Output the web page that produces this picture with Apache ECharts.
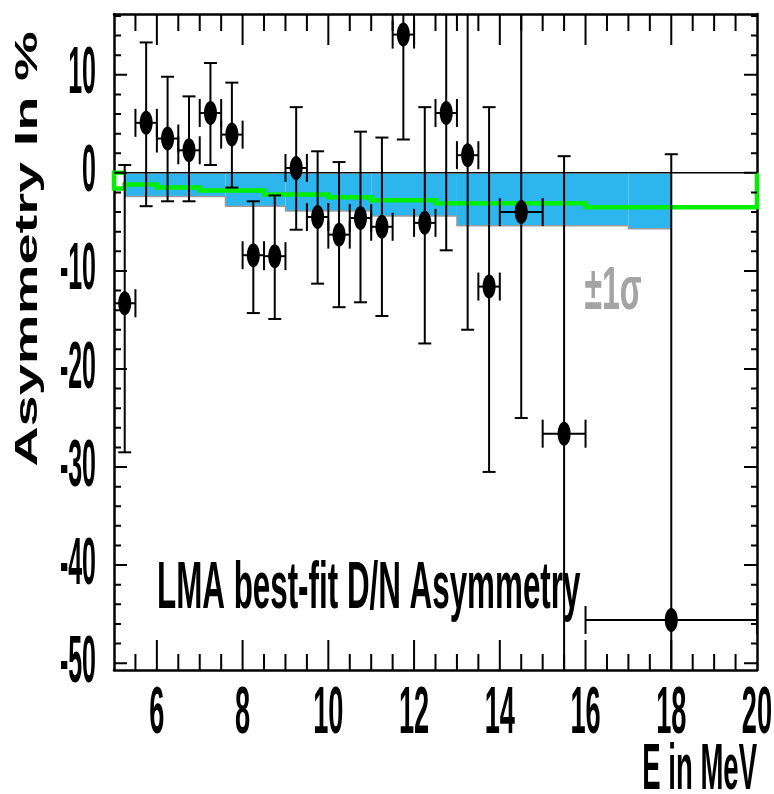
<!DOCTYPE html>
<html><head><meta charset="utf-8">
<script src="https://cdn.jsdelivr.net/npm/echarts@6/dist/echarts.min.js"></script>
<style>html,body{margin:0;padding:0;background:#fff}#c{width:774px;height:794px}</style>
</head><body><div id="c"></div>
<script>
// ---- data ----
const energy  = [5.25, 5.75, 6.25, 6.75, 7.25, 7.75, 8.25, 8.75, 9.25, 9.75, 10.25, 10.75, 11.25, 11.75, 12.25, 12.75, 13.25, 13.75, 14.5, 15.5, 18];
const asym    = [-13.3, 5.1, 3.5, 2.3, 6.1, 3.9, -8.4, -8.5, 0.5, -4.5, -6.3, -4.6, -5.5, 14.1, -5.1, 6.1, 1.8, -11.6, -4.0, -26.6, -45.6];
const errUp   = [14.1, 8.2, 6.3, 5.5, 5.1, 5.3, 5.5, 6.2, 6.2, 6.7, 7.4, 8.8, 9.1, 10.7, 11.8, 14.0, 17.8, 18.3, 21.0, 28.3, 47.5];
const errDown = [15.2, 8.5, 6.4, 5.2, 5.3, 5.4, 5.9, 6.4, 6.3, 6.8, 7.4, 8.6, 9.1, 10.7, 12.3, 14.0, 17.8, 18.9, 21.0, 28.3, 47.5];
const binHalf = [0.25, 0.25, 0.25, 0.25, 0.25, 0.25, 0.25, 0.25, 0.25, 0.25, 0.25, 0.25, 0.25, 0.25, 0.25, 0.25, 0.25, 0.25, 0.5, 0.5, 2];

const bandEdges = [5.25, 7.6, 9.0, 11.0, 13.0, 17.0, 18.0];
const bandLow   = [-2.4, -3.4, -3.9, -4.4, -5.4, -5.7];
const bandHigh  = [-0.1, -0.1, -0.1, -0.1, -0.1, -0.1];

const fitEdges = [5, 5.25, 6, 7, 8.5, 10, 11, 12.5, 16, 20];
const fitVals  = [-1.6, -1.2, -1.5, -1.8, -2.2, -2.5, -2.8, -3.1, -3.5];

const xTickLabels = [6, 8, 10, 12, 14, 16, 18, 20];
const yTickLabels = [10, 0, -10, -20, -30, -40, -50];
const xMajorTicks = [6, 8, 10, 12, 14, 16, 18];
const yMajorTicks = [10, 0, -10, -20, -30, -40, -50];

const X_MIN = 5, X_MAX = 20, Y_MIN = -50.7, Y_MAX = 16.2;

const xMinorTicks = []; for (let v = 5.5; v < 20; v += 0.5) xMinorTicks.push(v);
const yMinorTicks = []; for (let v = -50; v <= 16; v += 2) yMinorTicks.push(v);

// ---- layout ----
const GRID = { left: 114, right: 17, top: 14, bottom: 124 };
const pxPerX = (774 - GRID.left - GRID.right) / (X_MAX - X_MIN);
const pxPerY = (794 - GRID.top - GRID.bottom) / (Y_MAX - Y_MIN);

// ---- derived tables ----
const bandData = bandLow.map((lo, i) => [bandEdges[i], bandEdges[i + 1], lo, bandHigh[i]]);
const bandEdgeLine = [];
bandLow.forEach((lo, i) => { bandEdgeLine.push([bandEdges[i], lo]); bandEdgeLine.push([bandEdges[i + 1], lo]); });
const fitLine = [[fitEdges[1], 0], [fitEdges[0], 0]];
fitVals.forEach((v, i) => { fitLine.push([fitEdges[i], v]); fitLine.push([fitEdges[i + 1], v]); });
fitLine.push([fitEdges[fitEdges.length - 1], 0]);
const pointData = energy.map((x, i) => [x, asym[i], x - binHalf[i], x + binHalf[i], asym[i] - errDown[i], asym[i] + errUp[i]]);

// inward tick marks as broken line segments (lengths given in pixels, converted to axis units)
const tickSegs = [];
function seg(a, b) { tickSegs.push(a, b, ['-', '-']); }
function xTick(v, lenB, lenT) {
  seg([v, Y_MIN], [v, Y_MIN + lenB / pxPerY]);
  seg([v, Y_MAX], [v, Y_MAX - lenT / pxPerY]);
}
function yTick(v, lenL, lenR) {
  seg([X_MIN, v], [X_MIN + lenL / pxPerX, v]);
  seg([X_MAX, v], [X_MAX - lenR / pxPerX, v]);
}
xMinorTicks.forEach(v => xTick(v, 16, 17));
xMajorTicks.forEach(v => xTick(v, 30, 31));
yMinorTicks.forEach(v => yTick(v, 7, 6));
yMajorTicks.forEach(v => yTick(v, 13, 13));

const FONT = "'Liberation Sans', Arial, sans-serif";

function xAx(pos) {
  return { type: 'value', min: X_MIN, max: X_MAX, position: pos,
    axisLine: { show: true, onZero: false, lineStyle: { color: '#000', width: 2.5 } },
    axisTick: { show: false }, axisLabel: { show: false }, splitLine: { show: false } };
}
function yAx(pos) {
  return { type: 'value', min: Y_MIN, max: Y_MAX, position: pos,
    axisLine: { show: true, onZero: false, lineStyle: { color: '#000', width: 2.5 } },
    axisTick: { show: false }, axisLabel: { show: false }, splitLine: { show: false } };
}

const chart = echarts.init(document.getElementById('c'));
chart.setOption({
  animation: false,
  backgroundColor: '#fff',
  grid: GRID,
  xAxis: [xAx('bottom'), xAx('top')],
  yAxis: [yAx('left'), yAx('right')],
  graphic: [
    { type: 'text', x: 28, y: 249, rotation: Math.PI / 2, scaleX: 1.75, scaleY: 1.0, silent: true,
      style: { text: 'Asymmetry In %', fontSize: 32, fontWeight: 'bold', fontFamily: FONT, fill: '#000', align: 'center', verticalAlign: 'middle' } },
    { type: 'text', x: 757, y: 771, scaleX: 0.86, scaleY: 2.0, silent: true,
      style: { text: 'E in MeV', fontSize: 32, fontWeight: 'bold', fontFamily: FONT, fill: '#000', align: 'right', verticalAlign: 'middle' } },
    { type: 'text', x: 157, y: 589, scaleX: 0.98, scaleY: 2.1, silent: true, z: 50,
      style: { text: 'LMA best-fit D/N Asymmetry', fontSize: 32, fontWeight: 'bold', fontFamily: FONT, fill: '#000', align: 'left', verticalAlign: 'middle' } },
    { type: 'text', x: 613, y: 292, scaleX: 1.0, scaleY: 1.9, silent: true,
      style: { text: '±1σ', fontSize: 32, fontWeight: 'bold', fontFamily: FONT, fill: '#a4a4a4', align: 'center', verticalAlign: 'middle' } }
  ],
  series: [
    { type: 'custom', name: 'band', z: 1, data: bandData,
      dimensions: ['x0', 'x1', 'lo', 'hi'], encode: { x: [0, 1], y: [2, 3] },
      renderItem(params, api) {
        const p0 = api.coord([api.value(0), api.value(3)]);
        const p1 = api.coord([api.value(1), api.value(2)]);
        return { type: 'rect', shape: { x: p0[0], y: p0[1], width: p1[0] - p0[0], height: p1[1] - p0[1] },
          style: { fill: '#2db6ee', stroke: null } };
      } },
    { type: 'line', name: 'bandEdge', z: 2, data: bandEdgeLine, showSymbol: false,
      lineStyle: { color: '#9c9c9c', width: 1.5 } },
    { type: 'line', name: 'zero', z: 3, data: [[X_MIN, 0], [X_MAX, 0]], showSymbol: false,
      lineStyle: { color: '#000', width: 1.5 } },
    { type: 'line', name: 'fit', z: 4, clip: false, data: fitLine, showSymbol: false,
      lineStyle: { color: '#00ee00', width: 4.5, join: 'miter' } },
    { type: 'line', name: 'ticks', z: 6, clip: false, data: tickSegs, showSymbol: false, connectNulls: false,
      lineStyle: { color: '#000', width: 2, cap: 'butt' } },
    { type: 'custom', name: 'data', z: 10, clip: true, data: pointData,
      dimensions: ['x', 'y', 'xlo', 'xhi', 'ylo', 'yhi'], encode: { x: [0, 2, 3], y: [1, 4, 5] },
      renderItem(params, api) {
        const x = api.value(0), y = api.value(1);
        const c = api.coord([x, y]);
        const l = api.coord([api.value(2), y]), r = api.coord([api.value(3), y]);
        const t = api.coord([x, api.value(5)]), b = api.coord([x, api.value(4)]);
        const st = { stroke: '#000', lineWidth: 2 };
        const ch = 14, cw = 6.5;
        return { type: 'group', children: [
          { type: 'line', shape: { x1: c[0], y1: t[1], x2: c[0], y2: b[1] }, style: st },
          { type: 'line', shape: { x1: c[0] - cw, y1: t[1], x2: c[0] + cw, y2: t[1] }, style: st },
          { type: 'line', shape: { x1: c[0] - cw, y1: b[1], x2: c[0] + cw, y2: b[1] }, style: st },
          { type: 'line', shape: { x1: l[0], y1: c[1], x2: r[0], y2: c[1] }, style: st },
          { type: 'line', shape: { x1: l[0], y1: c[1] - ch, x2: l[0], y2: c[1] + ch }, style: st },
          { type: 'line', shape: { x1: r[0], y1: c[1] - ch, x2: r[0], y2: c[1] + ch }, style: st },
          { type: 'ellipse', shape: { cx: c[0], cy: c[1], rx: 6.5, ry: 12 }, style: { fill: '#000' } }
        ] };
      } },
    { type: 'custom', name: 'xlabels', z: 20, clip: false,
      data: xTickLabels.map(v => [v, Y_MIN]), dimensions: ['x', 'y'], encode: { x: 0, y: 1 },
      renderItem(params, api) {
        const p = api.coord([api.value(0), api.value(1)]);
        return { type: 'text', x: p[0], y: p[1] + 44, scaleX: 0.85, scaleY: 2.1,
          style: { text: String(api.value(0)), fontSize: 32, fontWeight: 'bold', fontFamily: FONT, fill: '#000', align: 'center', verticalAlign: 'middle' } };
      } },
    { type: 'custom', name: 'ylabels', z: 20, clip: false,
      data: yTickLabels.map(v => [X_MIN, v]), dimensions: ['x', 'y'], encode: { x: 0, y: 1 },
      renderItem(params, api) {
        const p = api.coord([api.value(0), api.value(1)]);
        return { type: 'text', x: p[0] - 18, y: p[1], scaleX: 0.78, scaleY: 2.1,
          style: { text: String(api.value(1)), fontSize: 32, fontWeight: 'bold', fontFamily: FONT, fill: '#000', align: 'right', verticalAlign: 'middle' } };
      } }
  ]
});
</script>
</body></html>
